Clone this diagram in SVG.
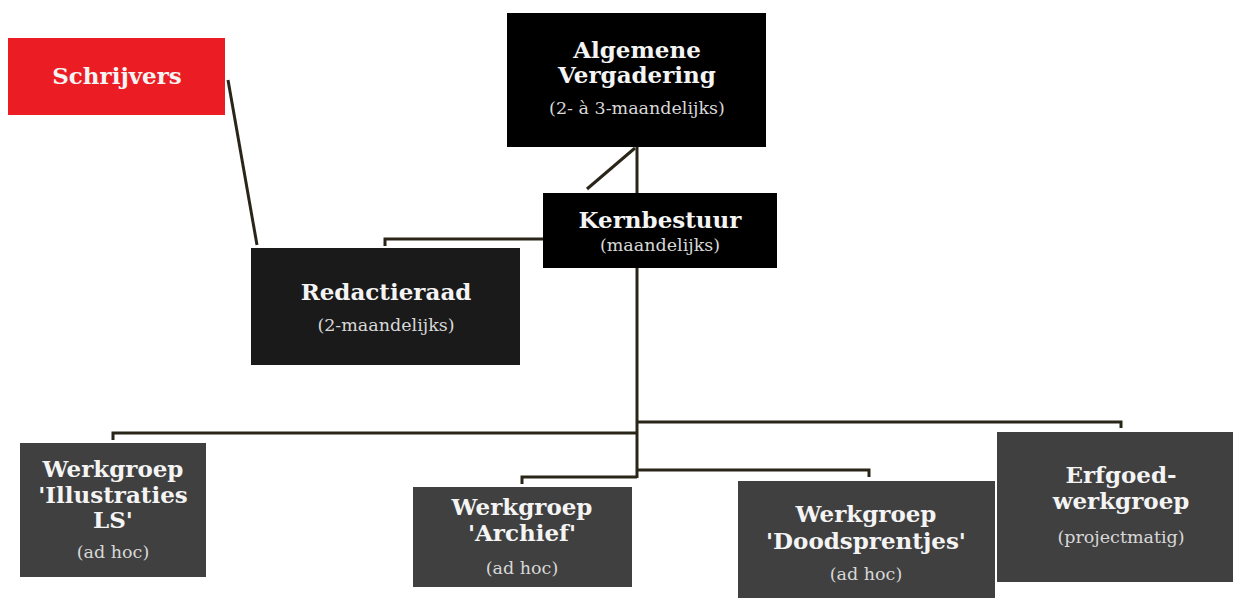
<svg xmlns="http://www.w3.org/2000/svg" width="1233" height="598" viewBox="0 0 1233 598">
<style>
.t{font-family:"DejaVu Serif","Liberation Serif",serif;font-weight:bold;font-size:23px;fill:#f4f4f4;text-anchor:middle}
.s{font-family:"DejaVu Serif","Liberation Serif",serif;font-size:17.5px;fill:#d8d8d8;text-anchor:middle}
.c{fill:none;stroke:#2a2519;stroke-width:3}
</style>
<rect width="1233" height="598" fill="#fff"/>
<g id="connectors">
<line class="c" x1="228" y1="80" x2="257" y2="245"/>
<line class="c" x1="637" y1="147" x2="637" y2="193"/>
<line class="c" x1="635" y1="148" x2="587" y2="189"/>
<polyline class="c" points="543,239 385,239 385,246"/>
<line class="c" x1="637" y1="268" x2="637" y2="478"/>
<polyline class="c" points="637,433 113,433 113,440"/>
<polyline class="c" points="637,422 1121,422 1121,428"/>
<polyline class="c" points="637,470 869,470 869,477"/>
<polyline class="c" points="637,477 522,477 522,484"/>
</g>
<g id="schrijvers">
<rect x="8" y="38" width="217" height="77" fill="#ec1c24"/>
<text class="t" x="117" y="84">Schrijvers</text>
</g>
<g id="algemene-vergadering">
<rect x="507" y="13" width="259" height="134" fill="#000"/>
<text class="t" x="637" y="58">Algemene</text>
<text class="t" x="637" y="83">Vergadering</text>
<text class="s" x="637" y="114">(2- à 3-maandelijks)</text>
</g>
<g id="kernbestuur">
<rect x="543" y="193" width="234" height="75" fill="#000"/>
<text class="t" x="660" y="228">Kernbestuur</text>
<text class="s" x="660" y="251">(maandelijks)</text>
</g>
<g id="redactieraad">
<rect x="251" y="248" width="269" height="117" fill="#1a1a1a"/>
<text class="t" x="386" y="300">Redactieraad</text>
<text class="s" x="386" y="331">(2-maandelijks)</text>
</g>
<g id="werkgroep-illustraties">
<rect x="20" y="443" width="186" height="134" fill="#404040"/>
<text class="t" x="113" y="477">Werkgroep</text>
<text class="t" x="113" y="503">'Illustraties</text>
<text class="t" x="113" y="528">LS'</text>
<text class="s" x="113" y="558">(ad hoc)</text>
</g>
<g id="werkgroep-archief">
<rect x="413" y="487" width="219" height="100" fill="#404040"/>
<text class="t" x="522" y="515">Werkgroep</text>
<text class="t" x="522" y="541">'Archief'</text>
<text class="s" x="522" y="574">(ad hoc)</text>
</g>
<g id="werkgroep-doodsprentjes">
<rect x="738" y="481" width="257" height="117" fill="#404040"/>
<text class="t" x="866" y="522">Werkgroep</text>
<text class="t" x="866" y="549">'Doodsprentjes'</text>
<text class="s" x="866" y="580">(ad hoc)</text>
</g>
<g id="erfgoed-werkgroep">
<rect x="997" y="432" width="236" height="150" fill="#404040"/>
<text class="t" x="1121" y="483">Erfgoed-</text>
<text class="t" x="1121" y="509">werkgroep</text>
<text class="s" x="1121" y="543">(projectmatig)</text>
</g>
</svg>
